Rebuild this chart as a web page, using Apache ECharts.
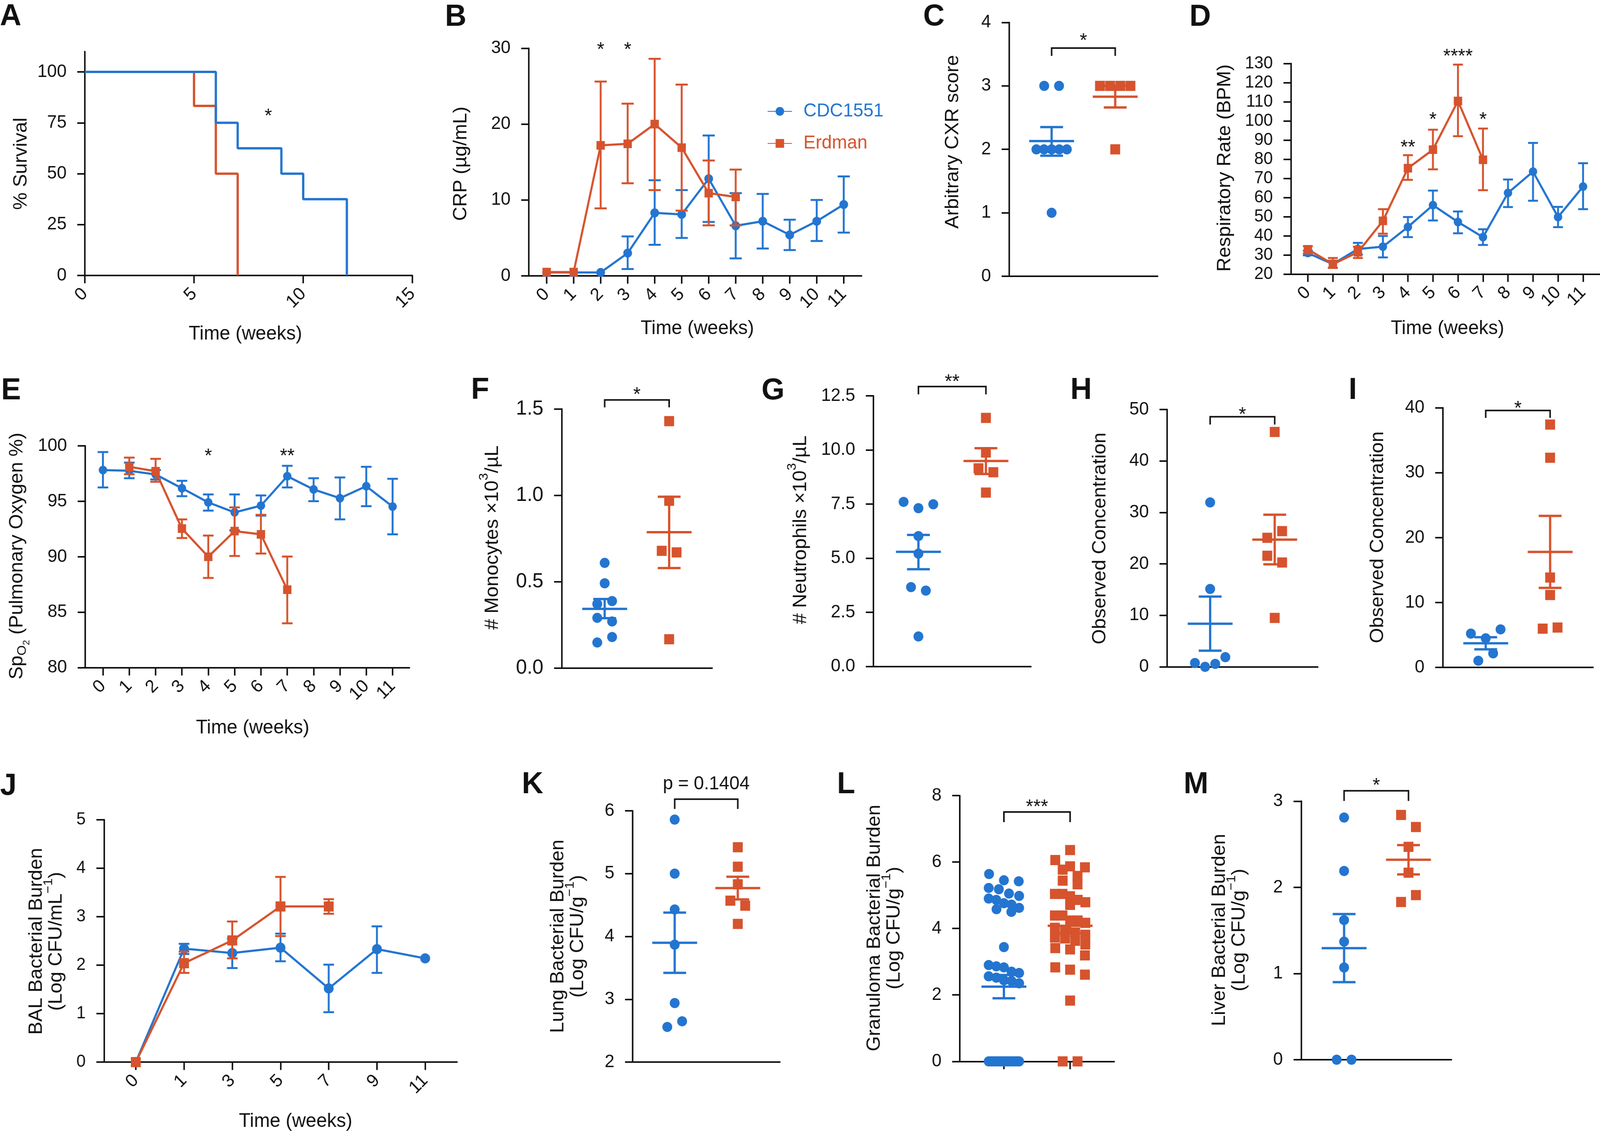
<!DOCTYPE html>
<html><head><meta charset="utf-8">
<script src="https://cdn.jsdelivr.net/npm/echarts@6/dist/echarts.min.js"></script>
<style>html,body{margin:0;padding:0;background:#fff;overflow:hidden}#c{width:4206px;height:2897px;transform-origin:0 0}</style>
</head><body><div id="c"></div>
<script>
const BLUE = '#2375D0', ORANGE = '#D6532D', INK = '#111';
const FONT = "'Liberation Sans', Arial, Helvetica, sans-serif";

// ---------------- DATA ----------------
// A: survival
const survWeeksCDC = [0, 6, 7, 9, 10, 12];
const survCDC      = [100, 75, 62.5, 50, 37.5, 0];
const survWeeksErd = [0, 5, 6, 7];
const survErd      = [100, 83.3, 50, 0];
const survTicksX = [0, 5, 10, 15];
const survTicksY = [0, 25, 50, 75, 100];
const survStars = [[8.4, 80.2, '*']];
// B: CRP
const weeks = [0, 1, 2, 3, 4, 5, 6, 7, 8, 9, 10, 11];
const crpCDC   = [0.45, 0.45, 0.45, 3.0, 8.3, 8.1, 12.8, 6.6, 7.2, 5.4, 7.2, 9.4];
const crpCDCLo = [null, null, null, 0.9, 4.1, 5.0, 7.1, 2.3, 3.6, 3.4, 4.6, 5.7];
const crpCDCHi = [null, null, null, 5.2, 12.6, 11.3, 18.5, 10.9, 10.8, 7.4, 10.0, 13.1];
const crpWeeksErd = [0, 1, 2, 3, 4, 5, 6, 7];
const crpErd   = [0.5, 0.5, 17.2, 17.4, 20.0, 16.9, 10.9, 10.4];
const crpErdLo = [null, null, 8.9, 12.2, 11.3, 8.6, 6.65, 6.65];
const crpErdHi = [null, null, 25.6, 22.7, 28.6, 25.2, 15.2, 14.0];
const crpTicksY = [0, 10, 20, 30];
const crpStars = [[2, 30.3, '*'], [3, 30.3, '*']];
// C: CXR score
const cxrCDC = [3, 3, 2, 2, 2, 2, 2, 1];
const cxrErd = [3, 3, 3, 3, 2];
const cxrMean = [2.13, 2.83], cxrSemLo = [1.90, 2.66], cxrSemHi = [2.35, 3.00];
const cxrTicks = [0, 1, 2, 3, 4];
// D: respiratory rate
const respCDC   = [31.0, 25.2, 33.1, 34.3, 44.6, 56.0, 47.2, 39.3, 62.4, 73.5, 49.8, 65.7];
const respCDCLo = [29.8, 23.3, 30.2, 28.7, 39.3, 48.0, 41.3, 35.2, 55.0, 58.3, 44.5, 53.9];
const respCDCHi = [32.2, 27.0, 36.3, 39.9, 49.8, 63.6, 52.7, 43.4, 69.4, 88.5, 55.1, 77.9];
const respWeeksErd = [0, 1, 2, 3, 4, 5, 6, 7];
const respErd   = [32.9, 25.2, 31.4, 47.8, 75.3, 85.0, 110.4, 79.7];
const respErdLo = [30.8, 23.2, 28.4, 41.1, 69.2, 74.7, 92.0, 63.8];
const respErdHi = [34.6, 28.4, 34.3, 53.9, 82.1, 95.4, 129.4, 96.0];
const respTicksY = [20, 30, 40, 50, 60, 70, 80, 90, 100, 110, 120, 130];
const respStars = [[4, 88.2, '**'], [5, 102.5, '*'], [6, 135.6, '****'], [7, 102.5, '*']];
// E: SpO2
const spoCDC   = [97.82, 97.75, 97.42, 96.18, 94.90, 94.00, 94.61, 97.26, 96.07, 95.28, 96.36, 94.52];
const spoCDCLo = [96.25, 97.08, 96.97, 95.46, 94.16, 92.38, 93.71, 96.25, 95.01, 93.37, 94.56, 92.02];
const spoCDCHi = [99.44, 98.49, 97.82, 96.85, 95.62, 95.62, 95.53, 98.20, 97.08, 97.15, 98.11, 97.03];
const spoWeeksErd = [1, 2, 3, 4, 5, 6, 7];
const spoErd   = [98.11, 97.71, 92.54, 90.00, 92.31, 92.02, 87.03];
const spoErdLo = [97.44, 96.76, 91.69, 88.09, 90.07, 90.29, 84.00];
const spoErdHi = [98.94, 98.83, 93.37, 91.91, 94.45, 93.78, 90.02];
const spoTicksY = [80, 85, 90, 95, 100];
const spoStars = [[4, 99.4, '*'], [7, 99.4, '**']];
// F: monocytes
const monoCDC = [0.608, 0.49, 0.37, 0.387, 0.29, 0.269, 0.147, 0.179];
const monoErd = [1.429, 0.968, 0.678, 0.669, 0.166];
const monoMean = [0.342, 0.786], monoSemLo = [0.288, 0.578], monoSemHi = [0.399, 0.991];
const monoTicks = [0, 0.5, 1.0, 1.5];
// G: neutrophils
const neutCDC = [7.60, 7.31, 7.49, 6.02, 5.21, 3.66, 3.50, 1.38];
const neutErd = [11.48, 9.88, 9.15, 8.97, 8.03];
const neutMean = [5.29, 9.49], neutSemLo = [4.49, 8.89], neutSemHi = [6.07, 10.08];
const neutTicks = [0, 2.5, 5, 7.5, 10, 12.5];
// H: observed concentration
const concHCDC = [31.95, 15.13, 0.74, 0, 0.57, 1.87];
const concHErd = [45.64, 25.07, 26.37, 21.58, 20.27, 9.50];
const concHMean = [8.37, 24.72], concHSemLo = [3.14, 19.92], concHSemHi = [13.64, 29.56];
const concHTicks = [0, 10, 20, 30, 40, 50];
// I: observed concentration
const concICDC = [5.22, 4.49, 5.87, 1.04, 2.18];
const concIErd = [37.41, 32.30, 13.85, 11.16, 5.98, 6.15];
const concIMean = [3.73, 17.79], concISemLo = [2.80, 12.26], concISemHi = [4.66, 23.35];
const concITicks = [0, 10, 20, 30, 40];
// J: BAL burden
const balWeeks = ['0', '1', '3', '5', '7', '9', '11'];
const balCDC   = [0, 2.34, 2.25, 2.36, 1.52, 2.33, 2.14];
const balCDCLo = [null, 2.23, 1.94, 2.08, 1.03, 1.84, null];
const balCDCHi = [null, 2.44, 2.55, 2.65, 2.01, 2.80, null];
const balErd   = [0, 2.04, 2.51, 3.21, 3.21];
const balErdLo = [null, 1.84, 2.14, 2.60, 3.06];
const balErdHi = [null, 2.28, 2.90, 3.82, 3.36];
const balTicksY = [0, 1, 2, 3, 4, 5];
// K: lung burden
const lungCDC = [5.86, 5.00, 4.43, 3.87, 2.94, 2.56, 2.65];
const lungErd = [5.42, 5.11, 4.83, 4.57, 4.49, 4.20];
const lungMean = [3.90, 4.77], lungSemLo = [3.42, 4.59], lungSemHi = [4.38, 4.95];
const lungTicks = [2, 3, 4, 5, 6];
// L: granuloma burden
const granCDC = [5.64, 5.45, 5.42, 5.22, 5.18, 5.05, 4.98, 4.90, 4.86, 4.76, 4.72, 4.62, 4.58, 4.50,
  3.44, 2.90, 2.86, 2.83, 2.70, 2.66, 2.56, 2.52, 2.44, 2.42, 2.35,
  0, 0, 0, 0, 0, 0, 0, 0, 0, 0, 0, 0, 0, 0, 0, 0, 0, 0, 0];
const granErd = [6.36, 6.06, 5.87, 5.84, 5.77, 5.58, 5.44, 5.33, 5.04, 5.04, 4.97, 4.86, 4.79, 4.71,
  4.39, 4.39, 4.24, 4.24, 4.17, 4.02, 3.92, 3.88, 3.81, 3.73, 3.70, 3.63, 3.52, 3.41, 3.37, 3.19,
  2.83, 2.76, 2.61, 1.83, 0, 0];
const granMean = [2.25, 4.08], granSemLo = [1.90, 3.86], granSemHi = [2.60, 4.30];
const granTicks = [0, 2, 4, 6, 8];
// M: liver burden
const liverCDC = [2.81, 2.19, 1.62, 1.37, 1.07, 0, 0];
const liverErd = [2.84, 2.70, 2.47, 2.17, 1.83, 1.91];
const liverMean = [1.294, 2.32], liverSemLo = [0.90, 2.15], liverSemHi = [1.69, 2.49];
const liverTicks = [0, 1, 2, 3];

const groupX = [1, 2.5];   // CDC1551, Erdman column positions on scatter panels

// ---------------- BUILD ----------------
const grids = [], xAxes = [], yAxes = [], series = [], graphics = [], scatterPanels = [];

function addGrid(r) {
  grids.push({left: r[0], top: r[1], width: r[2], height: r[3], containLabel: false, outerBoundsMode: 'none'});
  return grids.length - 1;
}
function valAxis(g, min, max, o) {
  return {
    type: 'value', gridIndex: g, min, max,
    axisLine: {show: true, onZero: false, lineStyle: {color: INK, width: 4}},
    axisTick: o.ticks ? {show: true, length: 20, lineStyle: {color: INK, width: 4}, customValues: o.ticks} : {show: false},
    axisLabel: o.labels ? {show: true, color: INK, fontFamily: FONT, fontSize: o.fontSize || 46,
      margin: o.margin || 48, rotate: o.rotate || 0, customValues: o.labels, formatter: o.formatter} : {show: false},
    splitLine: {show: false}
  };
}
function errRender(color, cap, lw) {
  return function (params, api) {
    const x = api.value(0);
    const a = api.coord([x, api.value(1)]), b = api.coord([x, api.value(2)]);
    const st = {stroke: color, lineWidth: lw};
    return {type: 'group', children: [
      {type: 'line', shape: {x1: a[0], y1: a[1], x2: b[0], y2: b[1]}, style: st},
      {type: 'line', shape: {x1: a[0] - cap, y1: a[1], x2: a[0] + cap, y2: a[1]}, style: st},
      {type: 'line', shape: {x1: b[0] - cap, y1: b[1], x2: b[0] + cap, y2: b[1]}, style: st}]};
  };
}
function meanRender(colors) {
  return function (params, api) {
    const x = api.value(0);
    const c = api.coord([x, api.value(1)]), a = api.coord([x, api.value(2)]), b = api.coord([x, api.value(3)]);
    const st = {stroke: colors[params.dataIndex], lineWidth: 6};
    return {type: 'group', children: [
      {type: 'line', shape: {x1: c[0] - 59, y1: c[1], x2: c[0] + 59, y2: c[1]}, style: st},
      {type: 'line', shape: {x1: a[0], y1: a[1], x2: b[0], y2: b[1]}, style: st},
      {type: 'line', shape: {x1: a[0] - 30, y1: a[1], x2: a[0] + 30, y2: a[1]}, style: st},
      {type: 'line', shape: {x1: b[0] - 30, y1: b[1], x2: b[0] + 30, y2: b[1]}, style: st}]};
  };
}
function bracketRender(label, drop, lift, size) {
  return function (params, api) {
    const p1 = api.coord([api.value(0), api.value(2)]), p2 = api.coord([api.value(1), api.value(2)]);
    return {type: 'group', children: [
      {type: 'polyline', shape: {points: [[p1[0], p1[1] + drop], [p1[0], p1[1]], [p2[0], p1[1]], [p2[0], p1[1] + drop]]},
        style: {stroke: INK, lineWidth: 4, fill: 'none'}},
      {type: 'text', x: (p1[0] + p2[0]) / 2, y: p1[1] - lift,
        style: {text: label, fontSize: size, fontFamily: FONT, fill: INK, align: 'center', verticalAlign: 'middle'}}]};
  };
}
function starSeries(g, items) {
  return {type: 'custom', xAxisIndex: g, yAxisIndex: g, z: 10, silent: true, clip: false,
    data: items.map(s => [s[0], s[1]]),
    renderItem(params, api) {
      const p = api.coord([api.value(0), api.value(1)]);
      return {type: 'text', x: p[0], y: p[1] + 11.5,
        style: {text: items[params.dataIndex][2], fontSize: 50, fontFamily: FONT, fill: INK, align: 'center', verticalAlign: 'middle'}};
    }};
}
function addLine(g, xs, vals, lo, hi, color, symbol, size, name, z, cap) {
  if (lo) {
    const eb = xs.map((x, i) => [x, lo[i], hi[i]]).filter(d => d[1] != null && d[2] != null);
    series.push({type: 'custom', xAxisIndex: g, yAxisIndex: g, z: z, silent: true, clip: false,
      renderItem: errRender(color, cap, 5), data: eb});
  }
  const s = {type: 'line', xAxisIndex: g, yAxisIndex: g, z: z + 1, silent: true, clip: false,
    data: xs.map((x, i) => [x, vals[i]]), symbol, symbolSize: size, showAllSymbol: true,
    lineStyle: {color, width: 5.5}, itemStyle: {color}};
  if (name) s.name = name;
  series.push(s);
  return s;
}
function scatterPanel(key, rect, ymin, ymax, yticks, fmt, groups, mean, lo, hi, br, o) {
  o = o || {};
  const g = addGrid(rect);
  xAxes.push(valAxis(g, 0, 3.5, {ticks: o.xticks || null, labels: null}));
  yAxes.push(valAxis(g, ymin, ymax, {ticks: yticks, labels: yticks, formatter: fmt, fontSize: o.fontSize}));
  const ids = [];
  groups.forEach((vals, k) => {
    const id = 'sc-' + key + '-' + k; ids.push(id);
    series.push({type: 'scatter', id, xAxisIndex: g, yAxisIndex: g, z: 3, silent: true, clip: false,
      symbol: k === 0 ? 'circle' : 'rect', symbolSize: 26, itemStyle: {color: k === 0 ? BLUE : ORANGE, opacity: 1}, data: []});
  });
  series.push({type: 'custom', xAxisIndex: g, yAxisIndex: g, z: 4, silent: true, clip: false,
    renderItem: meanRender([BLUE, ORANGE]), data: groupX.map((x, k) => [x, mean[k], lo[k], hi[k]])});
  series.push({type: 'custom', xAxisIndex: g, yAxisIndex: g, z: 5, silent: true, clip: false,
    renderItem: bracketRender(br.label, br.drop, br.lift, br.size || 50), data: [[groupX[0], groupX[1], br.y]]});
  scatterPanels.push({g, ids, groups});
}
const f1 = v => v.toFixed(1);

// ---- A ----
let g = addGrid([223, 132, 861, 573]);
xAxes.push(valAxis(g, 0, 15, {ticks: survTicksX, labels: survTicksX, rotate: 45, margin: 40}));
yAxes.push(valAxis(g, 0, 110, {ticks: survTicksY, labels: survTicksY}));
series.push({type: 'line', step: 'end', xAxisIndex: g, yAxisIndex: g, z: 2, symbol: 'none', silent: true, clip: false,
  data: survWeeksErd.map((x, i) => [x, survErd[i]]), lineStyle: {color: ORANGE, width: 6}, itemStyle: {color: ORANGE}});
series.push({type: 'line', step: 'end', xAxisIndex: g, yAxisIndex: g, z: 3, symbol: 'none', silent: true, clip: false,
  data: survWeeksCDC.map((x, i) => [x, survCDC[i]]), lineStyle: {color: BLUE, width: 6}, itemStyle: {color: BLUE}});
series.push(starSeries(g, survStars));

// ---- B ----
g = addGrid([1390.1, 123.4, 874.7, 582.6]);
xAxes.push(valAxis(g, -0.66, 11.66, {ticks: weeks, labels: weeks, rotate: 45, margin: 40}));
yAxes.push(valAxis(g, 0, 30, {ticks: crpTicksY, labels: crpTicksY}));
addLine(g, weeks, crpCDC, crpCDCLo, crpCDCHi, BLUE, 'circle', 23, 'CDC1551', 2, 16);
addLine(g, crpWeeksErd, crpErd, crpErdLo, crpErdHi, ORANGE, 'rect', 22, 'Erdman', 4, 16);
series.push(starSeries(g, crpStars));

// ---- C ----
scatterPanel('C', [2653, 57.4, 390, 649.6], 0, 4, cxrTicks, null, [cxrCDC, cxrErd], cxrMean, cxrSemLo, cxrSemHi,
  {label: '*', y: 3.596, drop: 20, lift: 16.5});

// ---- D ----
g = addGrid([3393.9, 162.4, 811.6, 539]);
xAxes.push(valAxis(g, -0.67, 11.67, {ticks: weeks, labels: weeks, rotate: 45, margin: 40}));
yAxes.push(valAxis(g, 20, 130, {ticks: respTicksY, labels: respTicksY, fontSize: 44}));
addLine(g, weeks, respCDC, respCDCLo, respCDCHi, BLUE, 'circle', 22, null, 2, 13);
addLine(g, respWeeksErd, respErd, respErdLo, respErdHi, ORANGE, 'rect', 22, null, 4, 13);
series.push(starSeries(g, respStars));

// ---- E ----
g = addGrid([224.2, 1141, 852.1, 567.7]);
xAxes.push(valAxis(g, -0.67, 11.64, {ticks: weeks, labels: weeks, rotate: 45, margin: 40}));
yAxes.push(valAxis(g, 80, 100, {ticks: spoTicksY, labels: spoTicksY}));
addLine(g, weeks, spoCDC, spoCDCLo, spoCDCHi, BLUE, 'circle', 22, null, 2, 14);
addLine(g, spoWeeksErd, spoErd, spoErdLo, spoErdHi, ORANGE, 'rect', 22, null, 4, 14);
series.push(starSeries(g, spoStars));

// ---- F, G, H, I ----
scatterPanel('F', [1476.5, 1046.4, 395.5, 662.9], 0, 1.5, monoTicks, f1, [monoCDC, monoErd], monoMean, monoSemLo, monoSemHi,
  {label: '*', y: 1.552, drop: 19, lift: 11.5}, {fontSize: 52});
scatterPanel('G', [2296, 1013, 414, 692.3], 0, 12.5, neutTicks, f1, [neutCDC, neutErd], neutMean, neutSemLo, neutSemHi,
  {label: '**', y: 12.93, drop: 20, lift: 9.5});
scatterPanel('H', [3068, 1048, 396, 658.5], 0, 50, concHTicks, null, [concHCDC, concHErd], concHMean, concHSemLo, concHSemHi,
  {label: '*', y: 48.6, drop: 20, lift: 3.5});
scatterPanel('I', [3792.7, 1043.5, 395, 664.7], 0, 40, concITicks, null, [concICDC, concIErd], concIMean, concISemLo, concISemHi,
  {label: '*', y: 39.58, drop: 19, lift: 3.5});

// ---- J ----
g = addGrid([273.3, 2097.7, 928, 620.5]);
const balIdx = balWeeks.map((w, i) => i);
xAxes.push(valAxis(g, -0.66, 6.66, {ticks: balIdx, labels: balIdx, rotate: 45, margin: 40, formatter: v => balWeeks[Math.round(v)]}));
yAxes.push(valAxis(g, 0, 5, {ticks: balTicksY, labels: balTicksY, fontSize: 44}));
addLine(g, balIdx, balCDC, balCDCLo, balCDCHi, BLUE, 'circle', 26, null, 2, 14);
addLine(g, balIdx.slice(0, balErd.length), balErd, balErdLo, balErdHi, ORANGE, 'rect', 26, null, 4, 14);

// ---- K, L, M ----
scatterPanel('K', [1663, 2075, 387, 643.2], 2, 6, lungTicks, null, [lungCDC, lungErd], lungMean, lungSemLo, lungSemHi,
  {label: 'p = 0.1404', y: 6.185, drop: 25, lift: 38, size: 48});
scatterPanel('L', [2523, 2036, 406, 680.3], 0, 8, granTicks, null, [granCDC, granErd], granMean, granSemLo, granSemHi,
  {label: '***', y: 7.506, drop: 26, lift: 10.5}, {xticks: groupX});
scatterPanel('M', [3420.4, 2050.3, 395, 661.7], 0, 3, liverTicks, null, [liverCDC, liverErd], liverMean, liverSemLo, liverSemHi,
  {label: '*', y: 3.12, drop: 26, lift: 11.5});

// ---------------- TEXT ----------------
function T(text, x, y, o) {
  o = o || {};
  const st = {text, fill: o.fill || INK, fontSize: o.size || 50, fontFamily: FONT, fontWeight: o.weight || 'normal',
    align: o.align || 'center', verticalAlign: 'middle'};
  if (o.rich) st.rich = o.rich;
  graphics.push({type: 'text', x, y, rotation: o.rot || 0, silent: true, z: 100, style: st});
}
const R90 = Math.PI / 2;
[['A', 28, 43], ['B', 1198, 44], ['C', 2455, 43], ['D', 3155, 44], ['E', 29, 1000], ['F', 1262, 999],
 ['G', 2032, 1000], ['H', 2842, 999], ['I', 3556, 999], ['J', 22, 2012], ['K', 1400, 2008], ['L', 2224, 2008], ['M', 3144, 2008]]
  .forEach(l => T(l[0], l[1], l[2], {size: 78, weight: 'bold'}));
[[645, 855], [1833, 841], [3805, 841], [664, 1863], [777, 2870]].forEach(p => T('Time (weeks)', p[0], p[1]));
T('% Survival', 56, 419, {rot: R90});
T('CRP (µg/mL)', 1212, 419, {rot: R90});
T('Arbitrary CXR score', 2505, 363, {rot: R90});
T('Respiratory Rate (BPM)', 3220, 430, {rot: R90});
T('Observed Concentration', 2892, 1378, {rot: R90});
T('Observed Concentration', 3622, 1375, {rot: R90});
const subRich = {
  b: {fontSize: 50, lineHeight: 50, verticalAlign: 'top', fontFamily: FONT, fill: INK},
  s: {fontSize: 34, lineHeight: 34, padding: [22, 0, 0, 0], verticalAlign: 'top', fontFamily: FONT, fill: INK},
  ss: {fontSize: 24, lineHeight: 24, padding: [38, 0, 0, 0], verticalAlign: 'top', fontFamily: FONT, fill: INK}
};
T('{b|Sp}{s|O}{ss|2}{b| (Pulmonary Oxygen %)}', 45, 1423, {rot: R90, rich: subRich});
const supRich1 = {
  b: {fontSize: 50, lineHeight: 50, padding: [14, 0, 0, 0], verticalAlign: 'top', fontFamily: FONT, fill: INK},
  sup: {fontSize: 34, lineHeight: 34, verticalAlign: 'top', fontFamily: FONT, fill: INK}
};
T('{b|# Monocytes ×10}{sup|3}{b|/µL}', 1281, 1376, {rot: R90, rich: supRich1});
T('{b|# Neutrophils ×10}{sup|3}{b|/µL}', 2091, 1356, {rot: R90, rich: supRich1});
const supRich2 = {
  b: {fontSize: 50, lineHeight: 52, padding: [12, 0, 0, 0], verticalAlign: 'top', fontFamily: FONT, fill: INK},
  sup: {fontSize: 34, lineHeight: 34, verticalAlign: 'top', fontFamily: FONT, fill: INK}
};
T('{b|BAL Bacterial Burden}\n{b|(Log CFU/mL}{sup|−1}{b|)}', 111, 2409, {rot: R90, rich: supRich2});
T('{b|Lung Bacterial Burden}\n{b|(Log CFU/g}{sup|−1}{b|)}', 1482, 2396, {rot: R90, rich: supRich2});
T('{b|Granuloma Bacterial Burden}\n{b|(Log CFU/g}{sup|−1}{b|)}', 2314, 2375, {rot: R90, rich: supRich2});
T('{b|Liver Bacterial Burden}\n{b|(Log CFU/g}{sup|−1}{b|)}', 3221, 2380, {rot: R90, rich: supRich2});

const option = {
  animation: false,
  textStyle: {fontFamily: FONT},
  grid: grids, xAxis: xAxes, yAxis: yAxes, series,
  legend: {show: true, orient: 'vertical', left: 2017, top: 261, padding: 0, itemWidth: 64, itemHeight: 28, itemGap: 34,
    selectedMode: false,
    data: [{name: 'CDC1551', textStyle: {color: BLUE}}, {name: 'Erdman', textStyle: {color: ORANGE}}],
    textStyle: {fontSize: 48, fontFamily: FONT, padding: [0, 0, 0, 25]}},
  graphic: {elements: graphics}
};

// fit the 4206x2897 design to whatever the viewport really is
const host = document.getElementById('c');
const VW = window.innerWidth || 4206, VH = window.innerHeight || 2897;
host.style.transform = 'scale(' + (VW / 4206) + ',' + (VH / 2897) + ')';

const chart = echarts.init(host, null, {renderer: 'canvas', width: 4206, height: 2897});
chart.setOption(option);

// ---------------- beeswarm-like jitter (pixel space via the chart's own scales) ----------------
function rowOffsets(n, W, maxS) {
  const s = n > 1 ? Math.min(maxS, W / (n - 1)) : 0;
  return Array.from({length: n}, (_, k) => (k - (n - 1) / 2) * s);
}
function jitter(ys) {
  const n = ys.length;
  const order = ys.map((y, i) => i).sort((a, b) => (ys[a] - ys[b]) || (a - b));
  const clusters = []; let cur = [order[0]];
  for (let k = 1; k < n; k++) {
    if (ys[order[k]] - ys[order[k - 1]] < 33) cur.push(order[k]); else { clusters.push(cur); cur = [order[k]]; }
  }
  clusters.push(cur);
  const off = new Array(n).fill(0);
  const placeRow = r => { const s = r.slice().sort((a, b) => a - b); const o = rowOffsets(s.length, 80, 39); s.forEach((i, k) => off[i] = o[k]); };
  clusters.forEach(c => {
    const span = ys[c[c.length - 1]] - ys[c[0]];
    if (c.length <= 5 || span < 10) { placeRow(c); return; }
    let row = [c[0]], start = ys[c[0]];
    for (let k = 1; k < c.length; k++) {
      const i = c[k];
      if (ys[i] - start < 24) row.push(i); else { placeRow(row); row = [i]; start = ys[i]; }
    }
    placeRow(row);
  });
  return off;
}
const updates = [];
scatterPanels.forEach(sp => {
  const a = chart.convertToPixel({gridIndex: sp.g}, [groupX[0], 0]);
  const b = chart.convertToPixel({gridIndex: sp.g}, [groupX[1], 0]);
  const pxPerX = (b[0] - a[0]) / (groupX[1] - groupX[0]);
  sp.groups.forEach((vals, k) => {
    const ys = vals.map(v => chart.convertToPixel({gridIndex: sp.g}, [groupX[k], v])[1]);
    const off = jitter(ys);
    updates.push({id: sp.ids[k], data: vals.map((v, i) => [groupX[k] + off[i] / pxPerX, v])});
  });
});
chart.setOption({series: updates});
</script></body></html>
